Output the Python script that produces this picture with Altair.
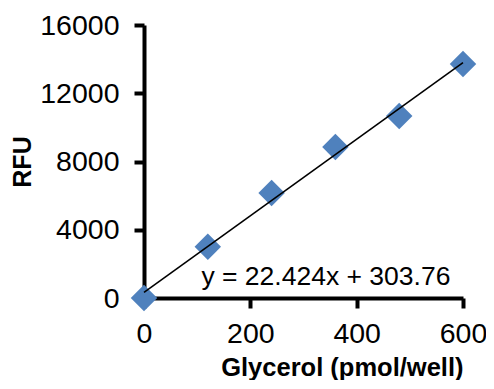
import altair as alt
import pandas as pd

glycerol = [0, 120, 240, 360, 480, 600]
rfu = [0, 3000, 6150, 8850, 10670, 13710]
eq_text = ["y = 22.424x + 303.76"]
eq_x = [108]
eq_y = [760]

df = pd.DataFrame({"x": glycerol, "y": rfu})
ann = pd.DataFrame({"x": eq_x, "y": eq_y, "t": eq_text})

xs = alt.Scale(domain=[0, 600], nice=False)
ys = alt.Scale(domain=[0, 16000], nice=False)

common = dict(grid=False, domainColor="black", domainWidth=4, tickColor="black", tickWidth=4,
              tickSize=10, labelFont="Liberation Sans", labelFontSize=28.5, labelColor="black",
              titleFont="Liberation Sans", titleFontWeight="bold", titleColor="black", labelFlush=False)

xaxis = alt.Axis(values=[0, 200, 400, 600], format="d", title="Glycerol (pmol/well)",
                 labelPadding=11, titleFontSize=25.5, titleAnchor="end", titlePadding=8, **common)
yaxis = alt.Axis(values=[0, 4000, 8000, 12000, 16000], format="d", title="RFU",
                 labelPadding=15, titleFontSize=25, titlePadding=4, **common)

pts = alt.Chart(df).mark_point(shape="diamond", filled=True, size=700, color="#4F81BD", opacity=1).encode(
    x=alt.X("x:Q", scale=xs, axis=xaxis),
    y=alt.Y("y:Q", scale=ys, axis=yaxis),
)

line = alt.Chart(df).transform_regression("x", "y", extent=[0, 600]).mark_line(
    color="black", strokeWidth=1.6).encode(
    x=alt.X("x:Q", scale=xs, axis=xaxis),
    y=alt.Y("y:Q", scale=ys, axis=yaxis),
)

txt = alt.Chart(ann).mark_text(align="left", baseline="alphabetic", font="Liberation Sans",
                               fontSize=26.5, color="black").encode(
    x=alt.X("x:Q", scale=xs, axis=xaxis),
    y=alt.Y("y:Q", scale=ys, axis=yaxis),
    text="t:N",
)

chart = alt.layer(pts, line, txt).properties(
    width=319, height=273,
    autosize=alt.AutoSizeParams(type="none"),
    padding={"left": 136, "top": 17, "right": 23, "bottom": 82},
).configure_view(stroke=None)

chart.save("out.html", embed_options={"renderer": "svg", "actions": False})
